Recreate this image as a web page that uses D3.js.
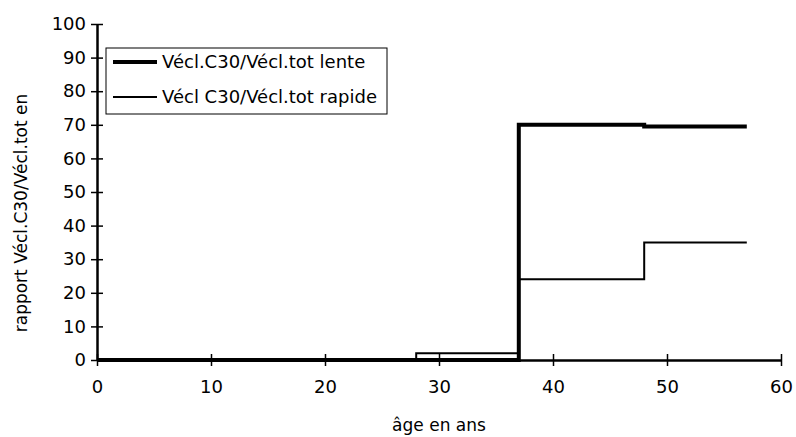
<!DOCTYPE html>
<html><head><meta charset="utf-8">
<script src="https://cdn.jsdelivr.net/npm/d3@7"></script>
<style>
html,body{margin:0;padding:0;background:#fff;}
text{font-family:"DejaVu Sans",sans-serif;fill:#000;}
</style></head>
<body>
<svg id="chart" width="796" height="437"></svg>
<script>
// Data
const lenteAges = [0, 37, 48, 57];
const lenteValues = [0, 70, 69.5, 69.5];
const rapideAges = [0, 28, 37, 48, 57];
const rapideValues = [0, 2, 24, 35, 35];
const seriesNames = ["Vécl.C30/Vécl.tot lente", "Vécl C30/Vécl.tot rapide"];
const xTicks = [0, 10, 20, 30, 40, 50, 60];
const yTicks = [0, 10, 20, 30, 40, 50, 60, 70, 80, 90, 100];
const xTitle = "âge en ans";
const yTitle = "rapport Vécl.C30/Vécl.tot en";

const svg = d3.select("#chart");
const x = d3.scaleLinear().domain([0, 60]).range([97, 781]);
const y = d3.scaleLinear().domain([0, 100]).range([360, 24]);

// axes
const yAxis = d3.axisLeft(y).tickValues(yTicks).tickSize(6).tickSizeOuter(0).tickPadding(5);
const gy = svg.append("g").attr("transform", `translate(${x(0)},0)`).call(yAxis);
const xAxis = d3.axisBottom(x).tickValues(xTicks).tickSize(6).tickSizeOuter(0).tickPadding(14);
const gx = svg.append("g").attr("transform", `translate(0,${y(0)})`).call(xAxis);
[gx, gy].forEach(g => {
  g.select(".domain").attr("stroke", "#000").attr("stroke-width", 2.5);
  g.selectAll(".tick line").attr("stroke", "#000").attr("stroke-width", 1.5);
  g.selectAll(".tick text").style("font-size", "18px").attr("font-family", null);
});
// ticks cross the axis
gy.selectAll(".tick line").attr("x1", 6);
gx.selectAll(".tick line").attr("y1", -6);
gx.selectAll(".tick text").attr("dy", "0.71em");

// lines
const line = d3.line().x(d => x(d[0])).y(d => y(d[1])).curve(d3.curveStepAfter);
svg.append("path").datum(rapideAges.map((a, i) => [a, rapideValues[i]]))
  .attr("d", line).attr("fill", "none").attr("stroke", "#000").attr("stroke-width", 2);
svg.append("path").datum(lenteAges.map((a, i) => [a, lenteValues[i]]))
  .attr("d", line).attr("fill", "none").attr("stroke", "#000").attr("stroke-width", 4);

// titles
svg.append("text").attr("x", 439).attr("y", 431).attr("text-anchor", "middle")
  .style("font-size", "17px").text(xTitle);
svg.append("text").attr("transform", "translate(27,213) rotate(-90)").attr("text-anchor", "middle")
  .style("font-size", "17px").text(yTitle);

// legend
const lg = svg.append("g");
lg.append("rect").attr("x", 106).attr("y", 48).attr("width", 281).attr("height", 66)
  .attr("fill", "#fff").attr("stroke", "#000").attr("stroke-width", 1);
const widths = [4, 2];
seriesNames.forEach((n, i) => {
  const yy = 62 + i * 35;
  lg.append("line").attr("x1", 113).attr("x2", 157).attr("y1", yy).attr("y2", yy)
    .attr("stroke", "#000").attr("stroke-width", widths[i]);
  lg.append("text").attr("x", 162).attr("y", yy).attr("dy", "0.35em")
    .style("font-size", "18px").text(n);
});
</script>
</body></html>
